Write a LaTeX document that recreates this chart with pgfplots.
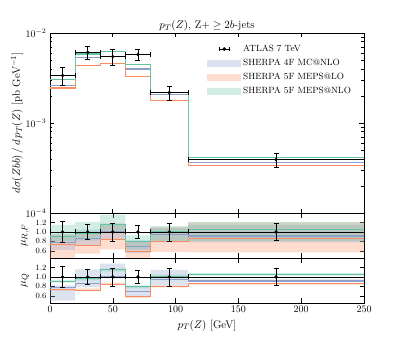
\documentclass[border=0pt]{standalone}
\usepackage{pgfplots}
\pgfplotsset{compat=1.18}
\usepackage{pgfplotstable}
\usepgfplotslibrary{fillbetween}
\definecolor{cg}{RGB}{102,194,165}
\definecolor{cb}{RGB}{141,160,203}
\definecolor{co}{RGB}{252,141,98}

\pgfplotstableread{
x y xe ye
10 3.37e-3 10 0.76e-3
30 6.08e-3 10 1.00e-3
50 5.46e-3 10 1.05e-3
70 5.77e-3 10 0.80e-3
95 2.18e-3 15 0.40e-3
180 3.92e-4 70 0.68e-4
}\atlas

\pgfplotstableread{
x green blue orange
0 3.05e-3 2.60e-3 2.45e-3
20 5.85e-3 5.30e-3 4.40e-3
40 6.25e-3 5.42e-3 4.60e-3
60 4.50e-3 3.98e-3 3.30e-3
80 2.19e-3 2.05e-3 1.76e-3
110 4.12e-4 3.62e-4 3.37e-4
250 4.12e-4 3.62e-4 3.37e-4
}\mainmc

\pgfplotstableread{
x y xe ye
10 1 10 0.23
30 1 10 0.165
50 1 10 0.19
70 1 10 0.14
95 1 15 0.19
180 1 70 0.17
}\ratiodata

\pgfplotstableread{
x green blue orange
0 0.91 0.77 0.73
20 0.96 0.87 0.72
40 1.15 1.00 0.85
60 0.79 0.70 0.58
80 1.01 0.94 0.80
110 1.05 0.915 0.855
250 1.05 0.915 0.855
}\ratiomc

\pgfplotstableread{
x gu gl bu bl ou ol
0 1.15 0.80 0.95 0.62 0.95 0.44
20 1.21 0.82 1.05 0.72 1.00 0.54
40 1.36 0.98 1.15 0.85 1.18 0.63
60 0.93 0.63 0.82 0.56 0.80 0.44
80 1.13 0.80 1.08 0.78 1.10 0.575
110 1.21 0.80 1.15 0.78 1.20 0.57
250 1.21 0.80 1.15 0.78 1.20 0.57
}\bandRF

\pgfplotstableread{
x gu gl bu bl ou ol
0 0.94 0.88 0.82 0.50 0.75 0.71
20 0.98 0.93 1.16 0.78 0.76 0.70
40 1.18 1.12 1.28 0.97 0.88 0.83
60 0.82 0.76 0.80 0.60 0.60 0.56
80 1.05 0.98 1.15 0.82 0.82 0.78
110 1.08 1.03 0.95 0.89 0.87 0.84
250 1.08 1.03 0.95 0.89 0.87 0.84
}\bandQ

\pgfplotsset{
  myax/.style={scale only axis, width=314pt, xmin=0, xmax=250,
    xtick={0,50,...,250}, tick pos=both, tick align=inside,
    axis line style={line width=0.9pt},
    every tick/.style={black, line width=0.6pt},
    major tick length=4.5pt, minor tick length=2.5pt,
    tick label style={font=\fontsize{10}{12}\selectfont},
    label style={font=\fontsize{11}{13}\selectfont},
  },
  ratio/.style={myax, height=45pt, ymin=0.45, ymax=1.4,
    ytick={0.6,0.8,1.0,1.2},
    yticklabel style={font=\fontsize{8.5}{10}\selectfont, /pgf/number format/.cd, fixed, fixed zerofill, precision=1},
    ylabel style={at={(axis description cs:-0.08,0.5)}, anchor=center},
  },
  mcline/.style={const plot, line width=1.1pt},
  dataerr/.style={black, only marks, mark=*, mark size=1.5pt,
    error bars/x dir=both, error bars/x explicit,
    error bars/y dir=both, error bars/y explicit,
    error bars/error bar style={line width=0.8pt, black},
    error bars/error mark options={black, mark size=2.5pt, line width=0.8pt, rotate=90}},
}

\begin{document}
\begin{tikzpicture}

% main panel
\begin{axis}[myax, at={(50pt,124pt)}, anchor=south west, height=180pt,
  ymode=log, ymin=1e-4, ymax=1e-2, xticklabels={},
  title={$p_T(Z)$, Z$+\geq 2b$-jets},
  title style={font=\fontsize{11}{13}\selectfont, yshift=-8pt},
  ylabel={$d\sigma(Zbb)\,/\,d\,p_T(Z)$ [pb GeV$^{-1}$]},
  ylabel style={at={(axis description cs:-0.105,0.5)}, anchor=center},
  legend style={at={(rel axis cs:0.5,0.945)}, anchor=north west, draw=none, fill=none,
    font=\fontsize{9}{11}\selectfont, row sep=2.2pt, inner sep=0pt},
  legend cell align=left,
]
\addlegendimage{legend image code/.code={
  \draw[black,line width=0.8pt] (12pt,0pt) -- (22pt,0pt);
  \draw[black,line width=0.8pt] (12pt,-2pt) -- (12pt,2pt) (22pt,-2pt) -- (22pt,2pt);
  \fill[black] (17pt,0pt) circle (1.6pt);}}
\addlegendentry{ATLAS 7 TeV}
\addlegendimage{legend image code/.code={\path[fill=cb!32!white, draw=none] (0pt,-3.7pt) rectangle (34pt,3.7pt);}}
\addlegendentry{SHERPA 4F MC@NLO}
\addlegendimage{legend image code/.code={\path[fill=co!30!white, draw=none] (0pt,-3.7pt) rectangle (34pt,3.7pt);}}
\addlegendentry{SHERPA 5F MEPS@LO}
\addlegendimage{legend image code/.code={\path[fill=cg!30!white, draw=none] (0pt,-3.7pt) rectangle (34pt,3.7pt);}}
\addlegendentry{SHERPA 5F MEPS@NLO}

\addplot[forget plot, mcline, cb] table[x=x, y=blue] {\mainmc};
\addplot[forget plot, mcline, co] table[x=x, y=orange] {\mainmc};
\addplot[forget plot, mcline, cg] table[x=x, y=green] {\mainmc};
\addplot[forget plot, dataerr] table[x=x, y=y, x error=xe, y error=ye] {\atlas};
\end{axis}

% ratio panel mu_RF
\begin{axis}[ratio, at={(50pt,79pt)}, anchor=south west, xticklabels={},
  ylabel={$\mu_{R,F}$}]
\addplot[name path=ou, const plot, draw=none] table[x=x, y=ou] {\bandRF};
\addplot[name path=ol, const plot, draw=none] table[x=x, y=ol] {\bandRF};
\addplot[co, fill opacity=0.3, draw=none] fill between[of=ou and ol];
\addplot[name path=bu, const plot, draw=none] table[x=x, y=bu] {\bandRF};
\addplot[name path=bl, const plot, draw=none] table[x=x, y=bl] {\bandRF};
\addplot[cb, fill opacity=0.3, draw=none] fill between[of=bu and bl];
\addplot[name path=gu, const plot, draw=none] table[x=x, y=gu] {\bandRF};
\addplot[name path=gl, const plot, draw=none] table[x=x, y=gl] {\bandRF};
\addplot[cg, fill opacity=0.3, draw=none] fill between[of=gu and gl];
\addplot[mcline, cb] table[x=x, y=blue] {\ratiomc};
\addplot[mcline, co] table[x=x, y=orange] {\ratiomc};
\addplot[mcline, cg] table[x=x, y=green] {\ratiomc};
\addplot[dataerr] table[x=x, y=y, x error=xe, y error=ye] {\ratiodata};
\end{axis}

% ratio panel mu_Q
\begin{axis}[ratio, at={(50pt,34pt)}, anchor=south west,
  xlabel={$p_T(Z)$ [GeV]}, ylabel={$\mu_Q$}]
\addplot[name path=ou, const plot, draw=none] table[x=x, y=ou] {\bandQ};
\addplot[name path=ol, const plot, draw=none] table[x=x, y=ol] {\bandQ};
\addplot[co, fill opacity=0.3, draw=none] fill between[of=ou and ol];
\addplot[name path=bu, const plot, draw=none] table[x=x, y=bu] {\bandQ};
\addplot[name path=bl, const plot, draw=none] table[x=x, y=bl] {\bandQ};
\addplot[cb, fill opacity=0.3, draw=none] fill between[of=bu and bl];
\addplot[name path=gu, const plot, draw=none] table[x=x, y=gu] {\bandQ};
\addplot[name path=gl, const plot, draw=none] table[x=x, y=gl] {\bandQ};
\addplot[cg, fill opacity=0.3, draw=none] fill between[of=gu and gl];
\addplot[mcline, cb] table[x=x, y=blue] {\ratiomc};
\addplot[mcline, co] table[x=x, y=orange] {\ratiomc};
\addplot[mcline, cg] table[x=x, y=green] {\ratiomc};
\addplot[dataerr] table[x=x, y=y, x error=xe, y error=ye] {\ratiodata};
\end{axis}
\path (0pt,0pt) rectangle (405pt,337pt);
\end{tikzpicture}
\end{document}
